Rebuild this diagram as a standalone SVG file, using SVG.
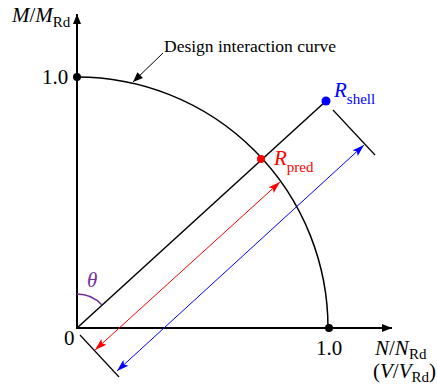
<svg xmlns="http://www.w3.org/2000/svg" width="437" height="385" viewBox="0 0 437 385">
<style>
text{font-family:"Liberation Serif","Times New Roman",serif;fill:#000}
.it{font-style:italic}
.ax{stroke:#000;stroke-width:2;fill:none}
.ln{stroke:#000;stroke-width:1.5;fill:none}
.tk{stroke:#000;stroke-width:1.2;fill:none}
</style>
<defs>
<marker id="ahK" viewBox="0 0 10 10" refX="10" refY="5" markerWidth="10" markerHeight="10" markerUnits="userSpaceOnUse" orient="auto"><path d="M0,1 L10,5 L0,9 Z" fill="#000"/></marker>
<marker id="ahR" viewBox="0 0 10 10" refX="10" refY="5" markerWidth="12" markerHeight="12" markerUnits="userSpaceOnUse" orient="auto-start-reverse"><path d="M0,1.8 L10,5 L0,8.2 L2,5 Z" fill="#f00"/></marker>
<marker id="ahB" viewBox="0 0 10 10" refX="10" refY="5" markerWidth="12" markerHeight="12" markerUnits="userSpaceOnUse" orient="auto-start-reverse"><path d="M0,1.8 L10,5 L0,8.2 L2,5 Z" fill="#00f"/></marker>
</defs>
<g id="connectors">
<line class="ax" x1="77" y1="329" x2="77" y2="14" marker-end="url(#ahK)"/>
<line class="ax" x1="76" y1="328" x2="392" y2="328" marker-end="url(#ahK)"/>
<path class="ln" d="M77,77 A251,251 0 0 1 328,328"/>
<line class="ln" x1="77" y1="328" x2="326" y2="101"/>
<line class="tk" x1="80" y1="335" x2="119" y2="377"/>
<line class="tk" x1="333" y1="110" x2="375" y2="155"/>
<line stroke="#f00" stroke-width="1" x1="95" y1="350" x2="280" y2="182" marker-start="url(#ahR)" marker-end="url(#ahR)"/>
<line stroke="#00f" stroke-width="1" x1="117" y1="371" x2="364" y2="145" marker-start="url(#ahB)" marker-end="url(#ahB)"/>
<line stroke="#000" stroke-width="1" x1="163" y1="53" x2="133" y2="82" marker-end="url(#ahK)"/>
<path d="M77,294 A34,34 0 0 1 102,305" stroke="#7030a0" stroke-width="1.5" fill="none"/>
</g>
<g id="ylabel"><text x="12" y="22" font-size="21"><tspan class="it">M</tspan>/<tspan class="it">M</tspan><tspan font-size="15" dy="5">Rd</tspan></text></g>
<g id="y1"><circle cx="77" cy="77" r="4" fill="#000"/><text x="42" y="84" font-size="21">1.0</text></g>
<g id="x1"><circle cx="329" cy="328" r="4" fill="#000"/><text x="316" y="355" font-size="21">1.0</text></g>
<g id="origin"><text x="64" y="345" font-size="21">0</text></g>
<g id="xlabel"><text x="375" y="355" font-size="21"><tspan class="it">N</tspan>/<tspan class="it">N</tspan><tspan font-size="15" dy="4">Rd</tspan></text><text x="373" y="378" font-size="21">(<tspan class="it">V</tspan>/<tspan class="it">V</tspan><tspan font-size="15" dy="4">Rd</tspan><tspan dy="-4">)</tspan></text></g>
<g id="curve-label"><text x="164" y="52" font-size="17.5">Design interaction curve</text></g>
<g id="rshell"><circle cx="326" cy="101" r="4.5" fill="#00f"/><text x="334" y="97" font-size="21" style="fill:#00f"><tspan class="it">R</tspan><tspan font-size="15" dy="7">shell</tspan></text></g>
<g id="rpred"><circle cx="261" cy="159" r="4" fill="#f00"/><text x="274" y="165" font-size="21" style="fill:#f00"><tspan class="it">R</tspan><tspan font-size="15" dy="7">pred</tspan></text></g>
<g id="theta"><text x="87" y="287" font-size="21" class="it" style="fill:#7030a0">θ</text></g>
</svg>
